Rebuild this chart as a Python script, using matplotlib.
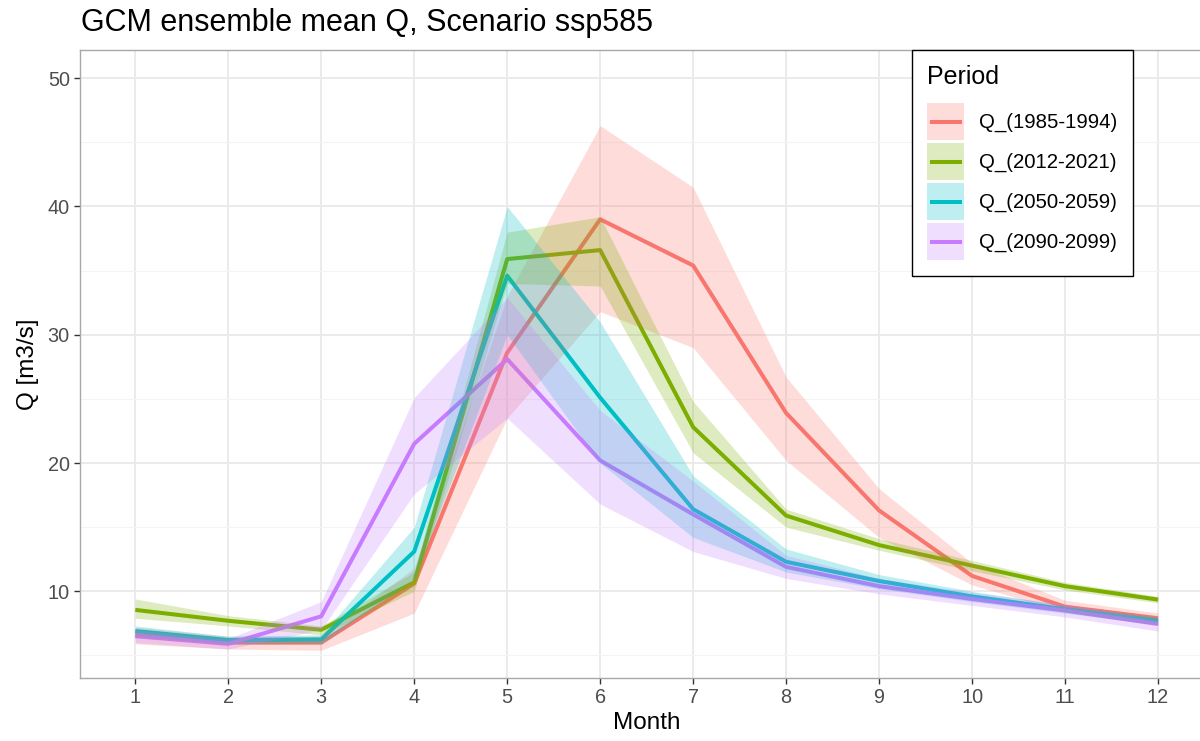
import matplotlib
matplotlib.use("Agg")
import matplotlib.pyplot as plt
from matplotlib.patches import Patch
from matplotlib.lines import Line2D
from matplotlib.legend_handler import HandlerLine2D
from matplotlib.ticker import MultipleLocator

plt.rcParams['font.family'] = ['Liberation Sans', 'DejaVu Sans']

months = [1, 2, 3, 4, 5, 6, 7, 8, 9, 10, 11, 12]
periods = ["Q_(1985-1994)", "Q_(2012-2021)", "Q_(2050-2059)", "Q_(2090-2099)"]
colors = ["#F8766D", "#7CAE00", "#00BFC4", "#C77CFF"]

q_1985 = [6.6, 6.0, 6.0, 10.6, 28.6, 39.0, 35.4, 23.9, 16.3, 11.2, 8.8, 7.9]
q_1985_lo = [5.9, 5.5, 5.4, 8.3, 23.5, 31.8, 29.0, 20.2, 14.2, 10.5, 8.4, 7.4]
q_1985_hi = [7.2, 6.5, 6.5, 11.8, 33.0, 46.3, 41.5, 26.7, 18.0, 12.2, 9.3, 8.3]

q_2012 = [8.55, 7.7, 7.0, 10.7, 35.9, 36.6, 22.8, 15.9, 13.6, 12.0, 10.4, 9.35]
q_2012_lo = [7.9, 7.3, 6.6, 10.0, 34.0, 33.8, 20.8, 15.0, 13.2, 11.6, 10.1, 9.1]
q_2012_hi = [9.4, 8.1, 7.3, 11.5, 38.0, 39.2, 24.8, 16.4, 14.1, 12.4, 10.7, 9.6]

q_2050 = [6.9, 6.2, 6.25, 13.1, 34.6, 25.1, 16.4, 12.3, 10.8, 9.6, 8.6, 7.7]
q_2050_lo = [6.5, 5.9, 5.9, 11.0, 30.0, 20.0, 14.2, 11.5, 10.2, 9.2, 8.3, 7.4]
q_2050_hi = [7.3, 6.5, 6.6, 15.0, 40.0, 31.0, 19.0, 13.3, 11.3, 10.0, 8.9, 8.0]

q_2090 = [6.5, 5.9, 8.05, 21.5, 28.1, 20.2, 16.0, 11.9, 10.4, 9.4, 8.5, 7.45]
q_2090_lo = [6.0, 5.5, 7.0, 17.6, 23.5, 16.8, 13.1, 11.0, 9.8, 8.9, 8.0, 6.9]
q_2090_hi = [7.0, 6.3, 9.2, 25.1, 32.9, 24.1, 18.6, 12.8, 11.0, 9.9, 9.0, 7.8]

means = [q_1985, q_2012, q_2050, q_2090]
lows = [q_1985_lo, q_2012_lo, q_2050_lo, q_2090_lo]
highs = [q_1985_hi, q_2012_hi, q_2050_hi, q_2090_hi]


class CenteredLine(HandlerLine2D):
    def create_artists(self, legend, orig_handle, xdescent, ydescent,
                       width, height, fontsize, trans):
        pad = 0.12 * width
        y = height / 2 - ydescent
        line = Line2D([-xdescent + pad, -xdescent + width - pad], [y, y])
        self.update_prop(line, orig_handle, legend)
        line.set_transform(trans)
        return [line]


W, H = 1200, 741
fig = plt.figure(figsize=(W / 100, H / 100), dpi=100)
x0, x1 = 79.5, 1213.8
y0, y1 = 50.5, 678
ax = fig.add_axes([x0 / W, 1 - y1 / H, (x1 - x0) / W, (y1 - y0) / H])

for m, c in zip(means, colors):
    ax.plot(months, m, color=c, lw=2.9, zorder=3, solid_capstyle='butt')
for lo, hi, c in zip(lows, highs, colors):
    ax.fill_between(months, lo, hi, color=c, alpha=0.25, lw=0, zorder=4)

ax.set_xlim(0.4, 12.6)
ax.set_ylim(3.24, 52.16)
ax.set_xticks(months)
ax.set_xticklabels([str(m) for m in months])
ax.yaxis.set_major_locator(MultipleLocator(10))
ax.yaxis.set_minor_locator(MultipleLocator(5))
ax.grid(which='major', color='#EBEBEB', lw=1.4, zorder=0)
ax.grid(which='minor', axis='y', color='#F4F4F4', lw=0.8, zorder=0)
ax.set_axisbelow(True)
for s in ax.spines.values():
    s.set_color('#A8A8A8')
    s.set_linewidth(1.0)
ax.tick_params(which='major', length=4, width=1.0, color='#333333',
               labelsize=14.3, labelcolor='#4D4D4D', pad=3)
ax.tick_params(which='minor', length=0)

ax.set_xlabel("Month", fontsize=17.5, color='black', labelpad=4)
ax.set_ylabel("Q [m3/s]", fontsize=17.5, color='black', labelpad=6)

fig.text(81 / W, 1 - 23 / H, "GCM ensemble mean Q, Scenario ssp585",
         fontsize=22, ha='left', va='center', color='black')

handles = [(Patch(facecolor=c, alpha=0.25, lw=0), Line2D([], [], color=c, lw=2.9))
           for c in colors]
leg = fig.legend(handles, periods, loc='upper left',
                 bbox_to_anchor=(912 / W, 1 - 50 / H), borderaxespad=0,
                 title="Period", fontsize=14.7, title_fontsize=18,
                 handlelength=1.8, handleheight=2.41, labelspacing=0.15,
                 handletextpad=0.75, borderpad=0.75, fancybox=False,
                 frameon=True, edgecolor='black', facecolor='white', framealpha=1,
                 handler_map={Line2D: CenteredLine()})
leg.get_frame().set_linewidth(1.0)
leg._legend_box.align = "left"
leg._legend_box.sep = 10

fig.savefig("out.png", dpi=100)
